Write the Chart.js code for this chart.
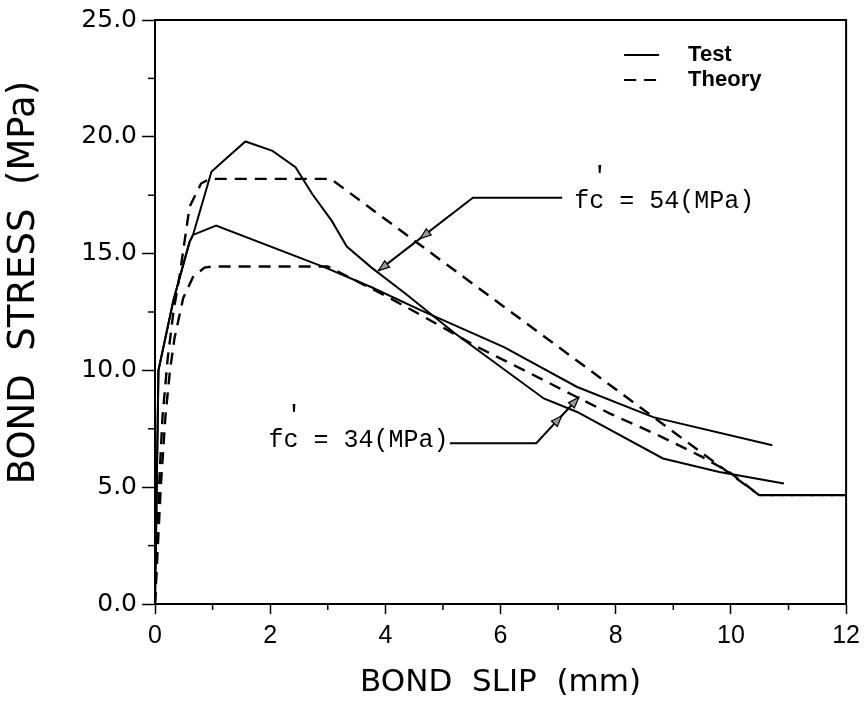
<!DOCTYPE html>
<html><head><meta charset="utf-8">
<script src="https://cdn.jsdelivr.net/npm/chart.js@4"></script>
<style>html,body{margin:0;padding:0;background:#fff;}canvas{display:block;}</style>
</head><body>
<canvas id="c" width="867" height="713"></canvas>
<script>
// ---- data ----
const test54Slip   = [0, 0.03, 0.06, 0.32, 0.60, 0.66, 0.98, 1.25, 1.57, 2.04, 2.44, 2.73, 3.07, 3.33, 3.76, 4.34, 5.20, 6.75, 7.33, 8.82, 9.80, 10.92];
const test54Stress = [0, 5.0, 10.0, 13.0, 15.5, 15.8, 18.5, 19.1, 19.8, 19.4, 18.7, 17.55, 16.4, 15.3, 14.4, 13.3, 11.6, 8.8, 8.22, 6.23, 5.65, 5.16];

const test34Slip   = [0, 0.03, 0.06, 0.32, 0.60, 0.66, 1.06, 2.96, 3.76, 4.63, 6.06, 7.33, 8.65, 10.72];
const test34Stress = [0, 5.0, 10.0, 13.0, 15.5, 15.8, 16.2, 14.4, 13.56, 12.56, 11.0, 9.29, 8.0, 6.8];

const theory54Slip   = [0, 0.07, 0.13, 0.22, 0.32, 0.43, 0.60, 0.80, 0.95, 3.05, 10.49, 12];
const theory54Stress = [0, 5.0, 8.0, 10.5, 12.5, 14.1, 17.0, 18.0, 18.2, 18.2, 4.66, 4.66];

const theory34Slip   = [0, 0.10, 0.18, 0.26, 0.34, 0.49, 0.66, 0.86, 1.0, 3.0, 4.0, 4.63, 5.6, 6.47, 7.21, 7.9, 8.76, 9.5, 10.0, 10.49, 12];
const theory34Stress = [0, 5.0, 8.0, 10.0, 11.4, 13.1, 14.0, 14.4, 14.45, 14.45, 13.2, 12.35, 11.0, 9.93, 9.0, 8.15, 7.2, 6.3, 5.6, 4.66, 4.66];

const xTicks = [0, 2, 4, 6, 8, 10, 12];
const xMinorTicks = [1, 3, 5, 7, 9, 11];
const yTicks = [0, 5, 10, 15, 20, 25];
const yMinorTicks = [2.5, 7.5, 12.5, 17.5, 22.5];

const legendLabels = ['Test', 'Theory'];
const labelTexts = ['fc = 54(MPa)', 'fc = 34(MPa)'];
const xTitle = 'BOND  SLIP  (mm)';
const yTitle = '     BOND  STRESS  (MPa)';

// annotation anchors (data units)
const labelAnchors = [[7.28, 17.25], [1.97, 7.0]];
const leaderPaths = [
  [[7.07, 17.39], [5.52, 17.39], [3.88, 14.27]],
  [[5.12, 6.88], [6.62, 6.88], [7.36, 8.85]]
];
const arrowFractions = [[0.56, 1.0], [0.6, 1.0]];

// ---- helpers ----
const pts = (xs, ys) => xs.map((x, i) => ({x, y: ys[i]}));
const DASH = [12, 8];

const frameAndTicks = {
  id: 'frameAndTicks',
  afterDraw(chart) {
    const {ctx, chartArea: a, scales: {x, y}} = chart;
    ctx.save();
    ctx.strokeStyle = '#000';
    ctx.lineWidth = 2;
    ctx.strokeRect(a.left, a.top, a.right - a.left, a.bottom - a.top);
    ctx.lineWidth = 1.5;
    xMinorTicks.forEach(v => {
      const px = x.getPixelForValue(v);
      ctx.beginPath(); ctx.moveTo(px, a.bottom); ctx.lineTo(px, a.bottom + 6); ctx.stroke();
    });
    yMinorTicks.forEach(v => {
      const py = y.getPixelForValue(v);
      ctx.beginPath(); ctx.moveTo(a.left, py); ctx.lineTo(a.left - 7, py); ctx.stroke();
    });
    ctx.restore();
  }
};

const insideLegend = {
  id: 'insideLegend',
  afterDraw(chart) {
    const {ctx, chartArea: a} = chart;
    const x0 = a.right - 222, x1 = a.right - 187, tx = a.right - 158;
    const rows = [a.top + 35, a.top + 60];
    ctx.save();
    ctx.strokeStyle = '#000'; ctx.fillStyle = '#000'; ctx.lineWidth = 2.2;
    ctx.font = 'bold 22px "Liberation Sans", Arial, sans-serif';
    ctx.textBaseline = 'middle'; ctx.textAlign = 'left';
    legendLabels.forEach((lab, i) => {
      ctx.setLineDash(i === 0 ? [] : DASH);
      ctx.beginPath(); ctx.moveTo(x0, rows[i]); ctx.lineTo(x1, rows[i]); ctx.stroke();
      ctx.fillText(lab, tx, rows[i]);
    });
    ctx.restore();
  }
};

const callouts = {
  id: 'callouts',
  afterDraw(chart) {
    const {ctx, scales: {x, y}} = chart;
    ctx.save();
    ctx.fillStyle = '#000'; ctx.strokeStyle = '#000';
    ctx.font = '25px "Liberation Mono", "Courier New", monospace';
    ctx.textBaseline = 'middle'; ctx.textAlign = 'left';
    labelTexts.forEach((t, i) => {
      const px = x.getPixelForValue(labelAnchors[i][0]);
      const py = y.getPixelForValue(labelAnchors[i][1]);
      ctx.fillText(t, px, py);
      const fw = ctx.measureText('f').width;
      ctx.fillText("'", px + fw * 1.2, py - 24);
      // leader
      const p = leaderPaths[i].map(q => [x.getPixelForValue(q[0]), y.getPixelForValue(q[1])]);
      ctx.lineWidth = 2;
      ctx.beginPath(); ctx.moveTo(p[0][0], p[0][1]);
      for (let k = 1; k < p.length; k++) ctx.lineTo(p[k][0], p[k][1]);
      ctx.stroke();
      const s = p[p.length - 2], e = p[p.length - 1];
      const ang = Math.atan2(e[1] - s[1], e[0] - s[0]);
      arrowFractions[i].forEach(f => {
        const hx = s[0] + (e[0] - s[0]) * f, hy = s[1] + (e[1] - s[1]) * f;
        ctx.save();
        ctx.translate(hx, hy); ctx.rotate(ang);
        ctx.beginPath(); ctx.moveTo(0, 0); ctx.lineTo(-11, -4); ctx.lineTo(-11, 4); ctx.closePath();
        ctx.fillStyle = '#999'; ctx.fill();
        ctx.lineWidth = 1.2; ctx.stroke();
        ctx.restore();
      });
    });
    ctx.restore();
  }
};

const mk = (label, xs, ys, dashed) => ({
  label, data: pts(xs, ys), borderColor: '#000', backgroundColor: '#000',
  borderWidth: dashed ? 2.4 : 2, borderDash: dashed ? DASH : [], pointRadius: 0,
  tension: 0, fill: false
});

new Chart(document.getElementById('c'), {
  type: 'line',
  data: {
    datasets: [
      mk('Test 54', test54Slip, test54Stress, false),
      mk('Test 34', test34Slip, test34Stress, false),
      mk('Theory 54', theory54Slip, theory54Stress, true),
      mk('Theory 34', theory34Slip, theory34Stress, true)
    ]
  },
  options: {
    responsive: false, animation: false, devicePixelRatio: 1,
    layout: {padding: {top: 20, right: 15, left: 0, bottom: 0}},
    plugins: {legend: {display: false}, tooltip: {enabled: false}},
    scales: {
      x: {
        type: 'linear', min: 0, max: 12,
        afterBuildTicks: s => { s.ticks = xTicks.map(v => ({value: v})); },
        afterFit: s => { s.height = 109; },
        grid: {drawOnChartArea: false, drawTicks: true, tickLength: 10, tickWidth: 1.5, tickColor: '#000'},
        border: {display: true, color: '#000', width: 2},
        ticks: {color: '#000', padding: 7, maxRotation: 0, font: {family: '"Liberation Sans", Arial, sans-serif', size: 25}},
        title: {display: true, text: xTitle, color: '#000', padding: {top: 0, bottom: 11},
          font: {family: '"DejaVu Sans", sans-serif', size: 31}}
      },
      y: {
        type: 'linear', min: 0, max: 25,
        afterBuildTicks: s => { s.ticks = yTicks.map(v => ({value: v})); },
        afterFit: s => { s.width = 155; },
        grid: {drawOnChartArea: false, drawTicks: true, tickLength: 13, tickWidth: 1.5, tickColor: '#000'},
        border: {display: true, color: '#000', width: 2},
        ticks: {color: '#000', padding: 5, callback: v => Number(v).toFixed(1),
          font: {family: '"DejaVu Sans", sans-serif', size: 25}},
        title: {display: true, text: yTitle, color: '#000', padding: {top: 2, bottom: 0},
          font: {family: '"DejaVu Sans", sans-serif', size: 37}}
      }
    }
  },
  plugins: [frameAndTicks, insideLegend, callouts]
});
</script>
</body></html>
